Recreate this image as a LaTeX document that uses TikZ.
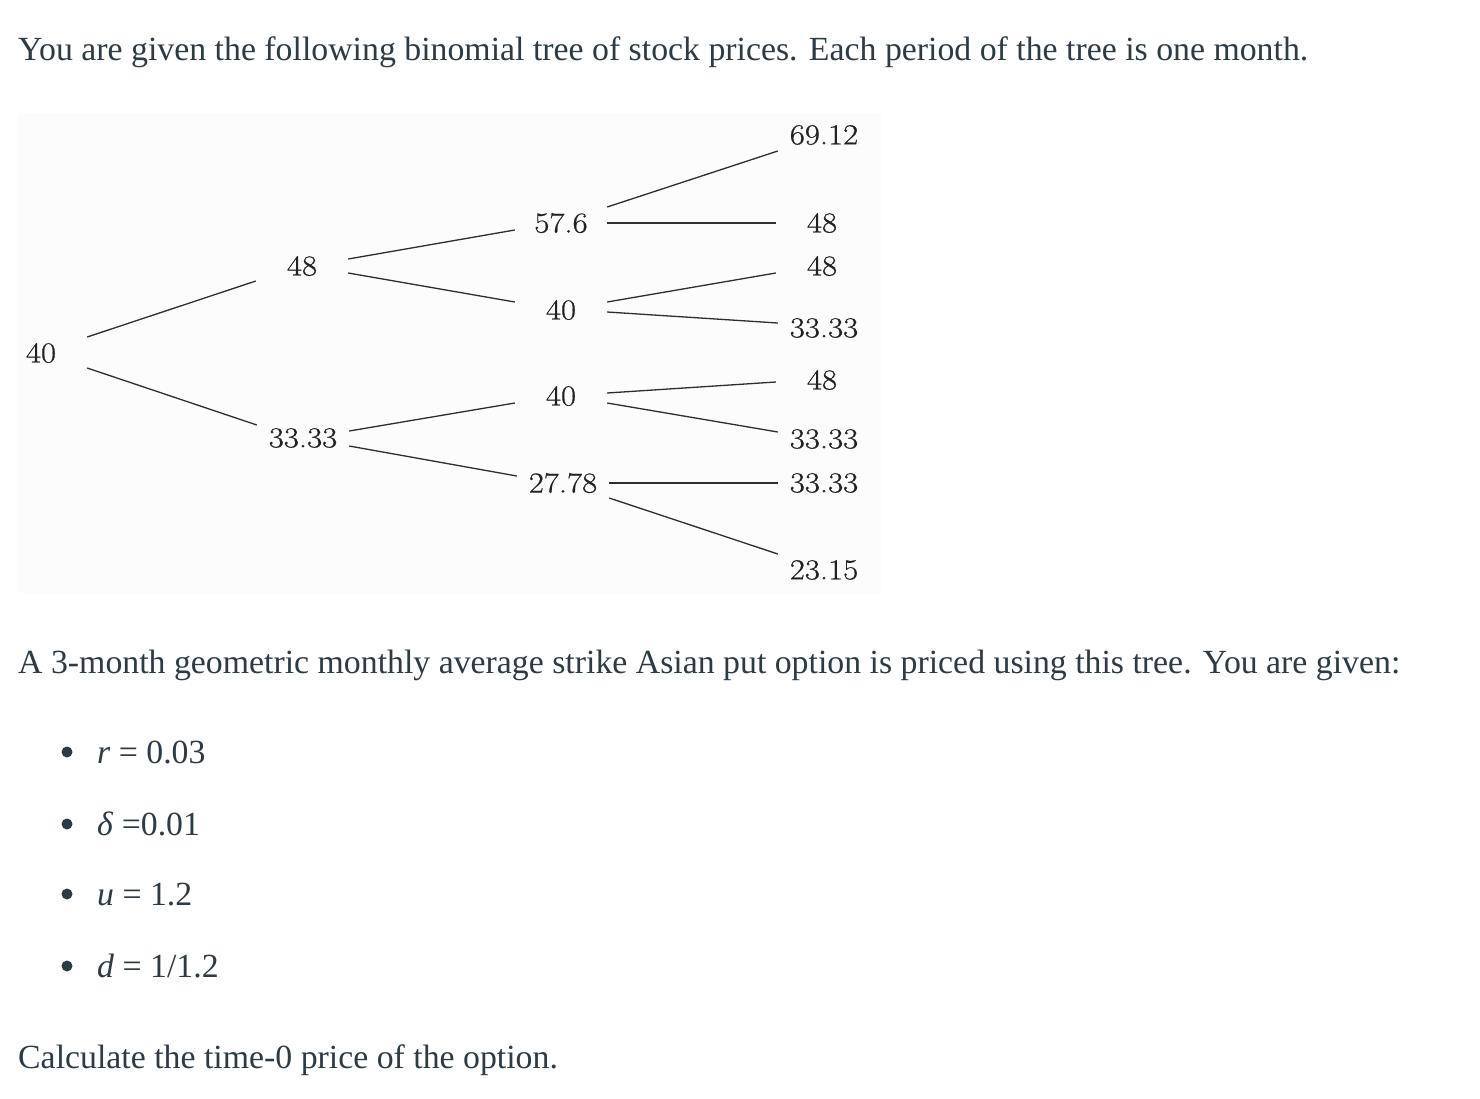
\documentclass[tikz,border=0pt]{standalone}
\usepackage{fontspec}
\newfontfamily\timesfont{Liberation Serif}
\newfontfamily\lmwide[FakeStretch=1.13,FakeBold=0.6]{Latin Modern Roman}
\usetikzlibrary{calc}
\definecolor{bodytext}{HTML}{2D3B45}
\definecolor{treetext}{HTML}{222222}
\definecolor{treeline}{HTML}{2E2E2E}
\definecolor{treebg}{HTML}{FCFCFC}
\begin{document}
\begin{tikzpicture}[x=1pt,y=1pt,
  val/.style={inner sep=0pt, minimum width=92pt, text=treetext, font=\lmwide\fontsize{29}{34}\selectfont},
  branch/.style={draw=treeline, line width=1.3pt},
  flat/.style={draw=treeline, line width=1.8pt},
  para/.style={inner sep=0pt, anchor=base west, text=bodytext, font=\timesfont\fontsize{33.8}{40}\selectfont},
  dot/.style={circle, inner sep=0pt, minimum size=11pt, fill=bodytext}]
\useasboundingbox (0,0) rectangle (1480,-1098);
\fill[white] (0,0) rectangle (1480,-1098);
\fill[treebg] (17,-113) rectangle (881,-593);

% tree nodes
\node[val] (r) at (41,-353) {40};
\node[val] (a) at (302,-266) {48};
\node[val] (b) at (303,-438) {33.33};
\node[val] (c) at (561,-223) {57.6};
\node[val] (d) at (561,-310) {40};
\node[val] (e) at (561,-396) {40};
\node[val] (f) at (563,-483) {27.78};
\node[val] (g) at (824,-135) {69.12};
\node[val] (h) at (822,-223) {48};
\node[val] (i) at (822,-266) {48};
\node[val] (j) at (824,-328) {33.33};
\node[val] (k) at (822,-380) {48};
\node[val] (l) at (824,-439) {33.33};
\node[val] (m) at (824,-483) {33.33};
\node[val] (n) at (824,-570) {23.15};

% connectors
\draw[branch] ($(r.east)+(0,16)$) -- ($(a.west)+(0,-15)$);
\draw[branch] ($(r.east)+(0,-15)$) -- ($(b.west)+(0,13)$);
\draw[branch] ($(a.east)+(0,7)$) -- ($(c.west)+(0,-7)$);
\draw[branch] ($(a.east)+(0,-7)$) -- ($(d.west)+(0,8)$);
\draw[branch] ($(b.east)+(0,7)$) -- ($(e.west)+(0,-7)$);
\draw[branch] ($(b.east)+(0,-8)$) -- ($(f.west)+(0,7)$);
\draw[branch] ($(c.east)+(0,16)$) -- ($(g.west)+(0,-16)$);
\draw[flat] (c.east) -- (h.west);
\draw[branch] ($(d.east)+(0,8)$) -- ($(i.west)+(0,-7)$);
\draw[branch] ($(d.east)+(0,-2)$) -- ($(j.west)+(0,5)$);
\draw[branch] ($(e.east)+(0,3)$) -- ($(k.west)+(0,-2)$);
\draw[branch] ($(e.east)+(0,-7)$) -- ($(l.west)+(0,7)$);
\draw[flat] (f.east) -- (m.west);
\draw[branch] ($(f.east)+(0,-15)$) -- ($(n.west)+(0,16)$);

% text
\node[para] (t1) at (18,-60) {You are given the following binomial tree of stock prices. Each period of the tree is one month.};
\node[para] (t2) at (18,-673) {A 3-month geometric monthly average strike Asian put option is priced using this tree. You are given:};
\node[dot] (b1) at (67,-752) {};
\node[para] (i1) at (97,-763) {\textit{r} = 0.03};
\node[dot] (b2) at (67,-824) {};
\node[para] (i2) at (97,-835) {\textit{δ} =0.01};
\node[dot] (b3) at (67,-894) {};
\node[para] (i3) at (97,-905) {\textit{u} = 1.2};
\node[dot] (b4) at (67,-966) {};
\node[para] (i4) at (97,-977) {\textit{d} = 1/1.2};
\node[para] (t3) at (18,-1068) {Calculate the time-0 price of the option.};
\end{tikzpicture}
\end{document}
